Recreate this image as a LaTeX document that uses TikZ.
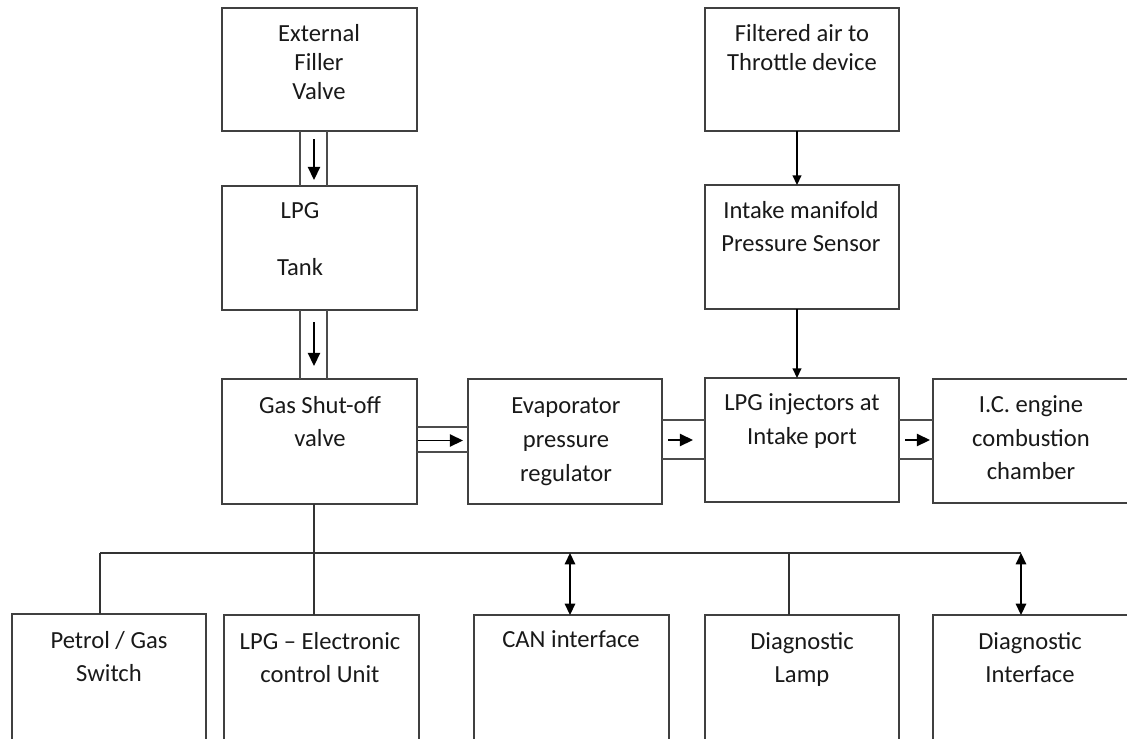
\documentclass[tikz,border=0pt]{standalone}
\usepackage{fontspec}
\setmainfont{Carlito}
\usetikzlibrary{arrows.meta,calc,fit}
\begin{document}
\begin{tikzpicture}[x=0.02cm,y=-0.02cm,
  box/.style={draw=black!75,line width=0.9pt,inner sep=0pt,outer sep=0pt},
  txt/.style={align=center,inner sep=0pt,text=black!90},
  pipe/.style={draw=black!70,line width=0.9pt},
  arr/.style={draw=black,line width=0.9pt,-{Triangle[length=7.5pt,width=7pt]}},
  sarr/.style={draw=black,line width=0.9pt,-{Triangle[length=5.5pt,width=5pt]}},
  darr/.style={draw=black,line width=0.9pt,{Triangle[length=6.5pt,width=6pt]}-{Triangle[length=6.5pt,width=6pt]}},
  bus/.style={draw=black!80,line width=0.9pt}]
\useasboundingbox (0,0) rectangle (1127,738);
\clip (0,0) rectangle (1127,738);
% boxes
\node[box,fit={(222,8) (417,131)}] (efv) {};
\node[box,fit={(222,186) (417,310)}] (tank) {};
\node[box,fit={(222,379) (417,504)}] (gas) {};
\node[box,fit={(705,8) (899,131)}] (air) {};
\node[box,fit={(705,185) (899,309)}] (map) {};
\node[box,fit={(468,379) (662,504)}] (evap) {};
\node[box,fit={(705,378) (899,502)}] (inj) {};
\node[box,fit={(933,379) (1129,503)}] (eng) {};
\node[box,fit={(12,614) (206,760)}] (pgs) {};
\node[box,fit={(224,615) (419,760)}] (ecu) {};
\node[box,fit={(474,615) (669,760)}] (can) {};
\node[box,fit={(705,615) (899,760)}] (lamp) {};
\node[box,fit={(933,615) (1129,760)}] (diag) {};
% texts
\node[txt,font=\fontsize{14}{16.5}\selectfont] (tefv) at (319,62) {External\\Filler\\Valve};
\node[txt,font=\fontsize{14}{16}\selectfont] (ttank) at (300,239) {LPG\\[16pt]Tank};
\node[txt,font=\fontsize{14}{18.8}\selectfont] (tgas) at (320,421.5) {Gas Shut-off\\valve};
\node[txt,font=\fontsize{14}{16.5}\selectfont] (tair) at (802,47.5) {Filtered air to\\Throttle device};
\node[txt,font=\fontsize{14}{18.8}\selectfont] (tmap) at (801,226.5) {Intake manifold\\Pressure Sensor};
\node[txt,font=\fontsize{14}{19.2}\selectfont] (tevap) at (566,441.5) {Evaporator\\pressure\\regulator};
\node[txt,font=\fontsize{14}{19.2}\selectfont] (tinj) at (802,421) {LPG injectors at\\Intake port};
\node[txt,font=\fontsize{14}{19}\selectfont] (teng) at (1031,438) {I.C. engine\\combustion\\chamber};
\node[txt,font=\fontsize{14}{18.8}\selectfont] (tpgs) at (109,656.5) {Petrol / Gas\\Switch};
\node[txt,font=\fontsize{14}{18.8}\selectfont] (tecu) at (320,657.5) {LPG – Electronic\\control Unit};
\node[txt,font=\fontsize{14}{18.8}\selectfont] (tcan) at (571,639) {CAN interface};
\node[txt,font=\fontsize{14}{18.8}\selectfont] (tlamp) at (802,659) {Diagnostic\\Lamp};
\node[txt,font=\fontsize{14}{18.8}\selectfont] (tdiag) at (1030,657.5) {Diagnostic\\Interface};
% pipe efv -> tank
\coordinate (a1) at ($(efv.south)+(-19.5,0)$);
\coordinate (a2) at ($(efv.south)+(7.5,0)$);
\draw[pipe] (a1) -- (a1 |- tank.north);
\draw[pipe] (a2) -- (a2 |- tank.north);
\draw[arr] ($(efv.south)+(-5.5,8)$) -- ($(tank.north)+(-5.5,-6)$);
% pipe tank -> gas
\coordinate (b1) at ($(tank.south)+(-19.5,0)$);
\coordinate (b2) at ($(tank.south)+(7.5,0)$);
\draw[pipe] (b1) -- (b1 |- gas.north);
\draw[pipe] (b2) -- (b2 |- gas.north);
\draw[arr] ($(tank.south)+(-5.5,12)$) -- ($(gas.north)+(-5.5,-13)$);
% pipe gas -> evap
\coordinate (c1) at ($(gas.east)+(0,-14.5)$);
\coordinate (c2) at ($(gas.east)+(0,10.5)$);
\draw[pipe] (c1) -- (c1 -| evap.west);
\draw[pipe] (c2) -- (c2 -| evap.west);
\coordinate (c3) at ($(gas.east)+(1,-1)$);
\draw[arr] (c3) -- ($(c3 -| evap.west)+(-5,0)$);
% pipe evap -> inj
\coordinate (d1) at ($(evap.east)+(0,-21.5)$);
\coordinate (d2) at ($(evap.east)+(0,17.5)$);
\draw[pipe] (d1) -- (d1 -| inj.west);
\draw[pipe] (d2) -- (d2 -| inj.west);
\coordinate (d3) at ($(evap.east)+(6,-1.5)$);
\draw[arr] (d3) -- ($(d3 -| inj.west)+(-12,0)$);
% pipe inj -> eng
\coordinate (e1) at ($(inj.east)+(0,-20)$);
\coordinate (e2) at ($(inj.east)+(0,19)$);
\draw[pipe] (e1) -- (e1 -| eng.west);
\draw[pipe] (e2) -- (e2 -| eng.west);
\coordinate (e3) at ($(inj.east)+(6,0)$);
\draw[arr] (e3) -- ($(e3 -| eng.west)+(-3,0)$);
% single arrows
\coordinate (f1) at ($(air.south)+(-5,0)$);
\draw[sarr] (f1) -- (f1 |- map.north);
\coordinate (f2) at ($(map.south)+(-5,0)$);
\draw[sarr] (f2) -- (f2 |- inj.north);
% bus
\coordinate (g1) at ($(gas.south)+(-5.5,0)$);
\draw[bus] (g1) -- (g1 |- ecu.north);
\coordinate (busL) at (100,553);
\coordinate (busR) at (1021,553);
\draw[bus] (busL) -- (busR);
\draw[bus] (busL) -- (busL |- pgs.north);
\coordinate (h1) at (570,553);
\draw[darr] (h1) -- (h1 |- can.north);
\coordinate (h2) at (789,553);
\draw[bus] (h2) -- (h2 |- lamp.north);
\draw[darr] (busR) -- (busR |- diag.north);
\end{tikzpicture}
\end{document}
